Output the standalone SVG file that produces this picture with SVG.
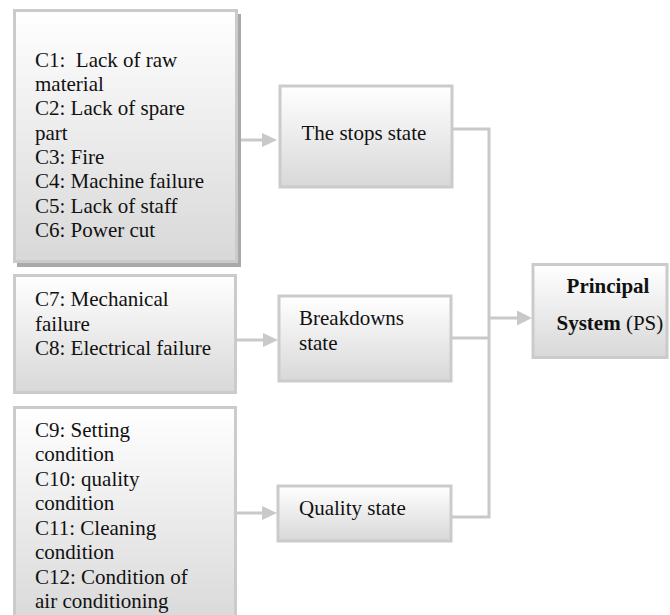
<svg xmlns="http://www.w3.org/2000/svg" width="670" height="615" viewBox="0 0 670 615">
  <style>
    .box { fill: url(#boxFill); stroke: #cbcbcb; stroke-width: 3; }
    .shadow { fill: #a9a9a9; }
    .wire { fill: none; stroke: #c9c9c9; stroke-width: 3; }
    .head { fill: #c9c9c9; }
    text { font-family: "Liberation Serif", serif; font-size: 21px; fill: #111; }
  </style>
  <defs>
    <linearGradient id="boxFill" x1="0" y1="0" x2="0" y2="1">
      <stop offset="0" stop-color="#ffffff"/>
      <stop offset="1" stop-color="#d8d8d8"/>
    </linearGradient>
  </defs>
  <rect width="670" height="615" fill="#ffffff"/>

  <!-- causes for stops -->
  <g id="causes-stops">
    <rect class="shadow" x="17" y="14" width="224" height="253"/>
    <rect class="box" x="14.5" y="10.5" width="222" height="251"/>
    <text x="35" y="66.7" xml:space="preserve">C1:  Lack of raw</text>
    <text x="35" y="91">material</text>
    <text x="35" y="115.3">C2: Lack of spare</text>
    <text x="35" y="139.6">part</text>
    <text x="35" y="164">C3: Fire</text>
    <text x="35" y="188.3">C4: Machine failure</text>
    <text x="35" y="212.7">C5: Lack of staff</text>
    <text x="35" y="237">C6: Power cut</text>
  </g>

  <!-- causes for breakdowns -->
  <g id="causes-breakdowns">
    <rect class="box" x="14.5" y="275.5" width="221" height="117"/>
    <text x="35" y="306">C7: Mechanical</text>
    <text x="35" y="330.5">failure</text>
    <text x="35" y="355">C8: Electrical failure</text>
  </g>

  <!-- causes for quality -->
  <g id="causes-quality">
    <rect class="box" x="14.5" y="407.5" width="221" height="220"/>
    <text x="35" y="436.5">C9: Setting</text>
    <text x="35" y="461">condition</text>
    <text x="35" y="485.5">C10: quality</text>
    <text x="35" y="510">condition</text>
    <text x="35" y="534.5">C11: Cleaning</text>
    <text x="35" y="559">condition</text>
    <text x="35" y="583.5">C12: Condition of</text>
    <text x="35" y="608">air conditioning</text>
  </g>

  <!-- states -->
  <g id="stops-state">
    <rect class="box" x="280" y="86" width="172" height="101"/>
    <text x="301.5" y="140">The stops state</text>
  </g>
  <g id="breakdowns-state">
    <rect class="box" x="279" y="296" width="172" height="85"/>
    <text x="299" y="325">Breakdowns</text>
    <text x="299" y="350">state</text>
  </g>
  <g id="quality-state">
    <rect class="box" x="278" y="486" width="173" height="55"/>
    <text x="299" y="515">Quality state</text>
  </g>

  <!-- principal system -->
  <g id="principal-system">
    <rect class="box" x="533" y="264.5" width="134" height="93"/>
    <text x="608" y="293" text-anchor="middle" font-weight="bold">Principal</text>
    <text x="556.5" y="330"><tspan font-weight="bold">System</tspan> (PS)</text>
  </g>

  <!-- connectors -->
  <g id="connectors">
    <line class="wire" x1="241" y1="140" x2="263" y2="140"/>
    <polygon class="head" points="262,133 277,140 262,147"/>
    <line class="wire" x1="237" y1="340" x2="264" y2="340"/>
    <polygon class="head" points="263,333 278,340 263,347"/>
    <line class="wire" x1="237" y1="513" x2="263" y2="513"/>
    <polygon class="head" points="262,506 277,513 262,520"/>

    <polyline class="wire" points="452,129 489,129 489,517 452,517"/>
    <line class="wire" x1="452" y1="338" x2="489" y2="338"/>
    <line class="wire" x1="489" y1="318" x2="518" y2="318"/>
    <polygon class="head" points="517,310.5 532,318 517,325.5"/>
  </g>
</svg>
